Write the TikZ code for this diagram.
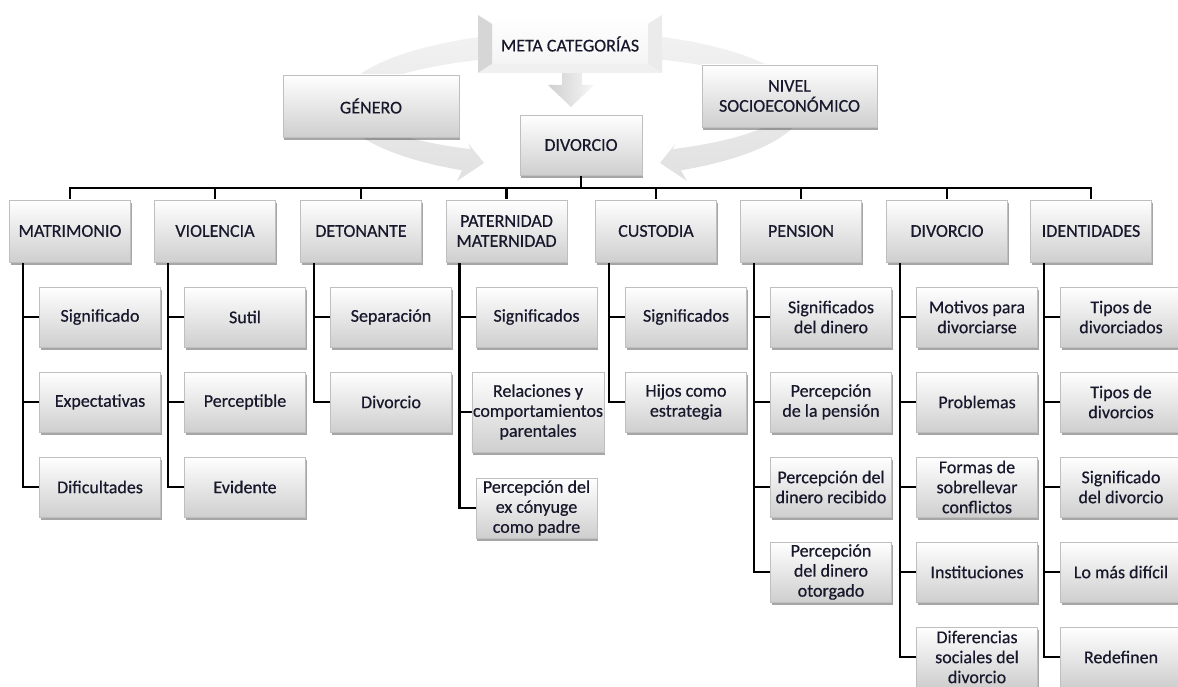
\documentclass[tikz,border=0pt]{standalone}
\usepackage{fontspec}
\setmainfont{Carlito}
\newfontfamily\boxfam{Carlito}[FakeBold=0.5]
\usetikzlibrary{shadows}

\definecolor{txt}{RGB}{24,24,44}
\newcommand\boxfont{\boxfam\fontsize{18}{20}\selectfont}

\pgfdeclarelayer{bg}
\pgfsetlayers{bg,main}

\tikzset{
  base/.style={font=\boxfont, text=txt, align=center, inner xsep=1pt, inner ysep=0pt},
  box/.style={base, top color=white, bottom color=gray!38, draw=gray!50, line width=0.6pt,
    minimum width=121pt, minimum height=60pt,
    drop shadow={shadow xshift=1pt, shadow yshift=-3pt, opacity=0.35, fill=black}},
  cat/.style={box, minimum width=121pt, minimum height=62pt},
  leaf/.style={box},
  wide/.style={box, minimum width=176pt, minimum height=62pt},
  bevel/.style={base, minimum width=184pt, minimum height=58pt,
    top color=white, bottom color=gray!10,
    path picture={
      \path (path picture bounding box.north west) coordinate (pnw)
            (path picture bounding box.south east) coordinate (pse);
      \fill[gray!32] (pnw) -- ++(14,9) -- ([shift={(14,-9)}]pnw |- pse) -- (pnw |- pse) -- cycle;
      \fill[gray!16] (pnw -| pse) -- ++(-14,9) -- ([shift={(-14,-9)}]pse) -- (pse) -- cycle;
      \fill[gray!12] (pnw |- pse) -- ([shift={(14,-9)}]pnw |- pse) -- ([shift={(-14,-9)}]pse) -- (pse) -- cycle;
    }},
  wire/.style={line width=2.4pt, black},
  band/.style={top color=gray!10, bottom color=gray!24}
}

\begin{document}
\begin{tikzpicture}[x=1pt,y=-1pt]
\useasboundingbox (0,0) rectangle (1178,687);

% upper cycle: meta categories feeding the divorce concept
\node[bevel] (meta) at (570,44) {META CATEGORÍAS};
\node[wide] (gen) at (371,106) {GÉNERO};
\node[wide, minimum width=175pt] (nse) at (789.5,96) {NIVEL\\SOCIOECONÓMICO};
\node[box, minimum width=122pt] (dv) at (581,145) {DIVORCIO};

% categories
\node[cat] (c1) at (70,231)   {MATRIMONIO};
\node[cat] (c2) at (215,231)  {VIOLENCIA};
\node[cat] (c3) at (361,231)  {DETONANTE};
\node[cat] (c4) at (506.5,231){PATERNIDAD\\MATERNIDAD};
\node[cat] (c5) at (656,231)  {CUSTODIA};
\node[cat] (c6) at (801,231)  {PENSION};
\node[cat] (c7) at (947,231)  {DIVORCIO};
\node[cat] (c8) at (1091,231) {IDENTIDADES};

% subcategories
\node[leaf] (c1a) at (100,317) {Significado};
\node[leaf] (c1b) at (100,402) {Expectativas};
\node[leaf] (c1c) at (100,487) {Dificultades};

\node[leaf] (c2a) at (245,317) {Sutil};
\node[leaf] (c2b) at (245,402) {Perceptible};
\node[leaf] (c2c) at (245,487) {Evidente};

\node[leaf] (c3a) at (391,317) {Separación};
\node[leaf] (c3b) at (391,402) {Divorcio};

\node[leaf] (c4a) at (536.5,317) {Significados};
\node[leaf, minimum height=80pt, minimum width=125pt] (c4b) at (538,412) {Relaciones y\\comportamientos\\parentales};
\node[leaf] (c4c) at (536.5,508) {Percepción del\\ex cónyuge\\como padre};

\node[leaf] (c5a) at (686,317) {Significados};
\node[leaf] (c5b) at (686,402) {Hijos como\\estrategia};

\node[leaf] (c6a) at (831,317) {Significados\\del dinero};
\node[leaf] (c6b) at (831,402) {Percepción\\de la pensión};
\node[leaf] (c6c) at (831,487) {Percepción del\\dinero recibido};
\node[leaf] (c6d) at (831,572) {Percepción\\del dinero\\otorgado};

\node[leaf] (c7a) at (977,317) {Motivos para\\divorciarse};
\node[leaf] (c7b) at (977,402) {Problemas};
\node[leaf] (c7c) at (977,487) {Formas de\\sobrellevar\\conflictos};
\node[leaf] (c7d) at (977,572) {Instituciones};
\node[leaf] (c7e) at (977,657) {Diferencias\\sociales del\\divorcio};

\node[leaf] (c8a) at (1121,317) {Tipos de\\divorciados};
\node[leaf] (c8b) at (1121,402) {Tipos de\\divorcios};
\node[leaf] (c8c) at (1121,487) {Significado\\del divorcio};
\node[leaf] (c8d) at (1121,572) {Lo más difícil};
\node[leaf] (c8e) at (1121,657) {Redefinen};

\begin{pgfonlayer}{bg}
  % left arc arrow: from the meta box round to the divorce box
  \shade[band]
    plot[domain=92:242, samples=60, variable=\t] ({571+232*cos(\t)},{105-74*sin(\t)})
    -- (457,181) -- (484,163) -- (468,143)
    -- plot[domain=242:92, samples=60, variable=\t] ({571+214*cos(\t)},{105-50*sin(\t)})
    -- cycle;
  % right arc arrow
  \shade[band]
    plot[domain=88:-62, samples=60, variable=\t] ({572+232*cos(\t)},{105-74*sin(\t)})
    -- (687,181) -- (660,163) -- (676,143)
    -- plot[domain=-62:88, samples=60, variable=\t] ({572+214*cos(\t)},{105-50*sin(\t)})
    -- cycle;
  % block arrow from the meta box down to the divorce box
  \shade[left color=gray!38, right color=gray!6]
    (562,67) -- (582,67) -- (582,85) -- (594,85) -- (571,107) -- (548,85) -- (562,85) -- cycle;

  % trunk and branches to the categories
  \foreach \c in {c1,c2,c3,c4,c5,c6,c7,c8}
    \draw[wire] (dv.south) -- ++(0,13) -| (\c.north);

  % category to subcategory brackets
  \foreach \p/\k in {c1/c1a,c1/c1b,c1/c1c,
                     c2/c2a,c2/c2b,c2/c2c,
                     c3/c3a,c3/c3b,
                     c4/c4a,c4/c4b,c4/c4c,
                     c5/c5a,c5/c5b,
                     c6/c6a,c6/c6b,c6/c6c,c6/c6d,
                     c7/c7a,c7/c7b,c7/c7c,c7/c7d,c7/c7e,
                     c8/c8a,c8/c8b,c8/c8c,c8/c8d,c8/c8e}
    \draw[wire] ([xshift=-47pt]\p.south) |- (\k.west);
\end{pgfonlayer}
\end{tikzpicture}
\end{document}
